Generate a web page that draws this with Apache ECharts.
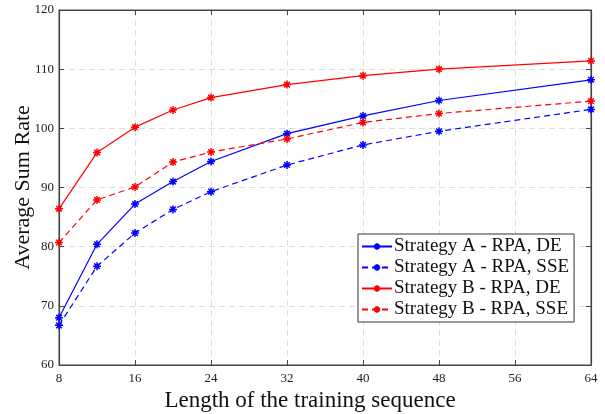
<!DOCTYPE html>
<html><head><meta charset="utf-8">
<script src="https://cdn.jsdelivr.net/npm/echarts@6/dist/echarts.min.js"></script>
<style>html,body{margin:0;padding:0;background:#fff}#c{width:605px;height:414px}</style>
</head><body><div id="c"></div>
<script>
var xValues = [8, 12, 16, 20, 24, 32, 40, 48, 64];
var seriesNames = ['Strategy A - RPA, DE', 'Strategy A - RPA, SSE', 'Strategy B - RPA, DE', 'Strategy B - RPA, SSE'];
var aDE  = [68.0, 80.4, 87.2, 91.0, 94.4, 99.1, 102.1, 104.7, 108.2];
var aSSE = [66.7, 76.7, 82.3, 86.3, 89.3, 93.8, 97.2, 99.5, 103.2];
var bDE  = [86.4, 95.9, 100.2, 103.1, 105.2, 107.4, 108.9, 110.0, 111.4];
var bSSE = [80.7, 87.9, 90.1, 94.3, 96.0, 98.2, 101.0, 102.5, 104.6];
var xTicks = [8, 16, 24, 32, 40, 48, 56, 64];
var yTicks = [60, 70, 80, 90, 100, 110, 120];

var star = 'path://M0,-10L0,10M-10,0L10,0M-7,-7L7,7M-7,7L7,-7';
var font = '"Liberation Serif","Times New Roman",serif';
function pairs(arr){ return xValues.map(function(x,i){ return [x, arr[i]]; }); }
function mk(name, data, color, dashed){
  return {
    name: name, type: 'line', data: pairs(data),
    symbol: star, symbolSize: 8,
    lineStyle: {color: color, width: 1.2, type: dashed ? [6,4] : 'solid'},
    itemStyle: {color: color, borderColor: color, borderWidth: 1.5},
    emphasis: {disabled: true}, animation: false, z: 3
  };
}
var axisLine = {show: true, lineStyle: {color: '#444', width: 1.2}};
var chart = echarts.init(document.getElementById('c'), null, {renderer: 'canvas'});
chart.setOption({
  animation: false,
  grid: {left: 59, right: 14, top: 10, bottom: 49, show: true, borderColor: '#444', borderWidth: 1,
         containLabel: false, outerBoundsMode: 'none'},
  legend: {
    orient: 'vertical', left: 358, top: 234,
    data: seriesNames,
    backgroundColor: '#fff', borderColor: '#333', borderWidth: 1,
    padding: [3, 5, 3, 3], itemGap: 2, itemWidth: 30, itemHeight: 8,
    textStyle: {fontFamily: font, fontSize: 19, color: '#111', padding: [0,0,0,-3]}
  },
  xAxis: [{
    type: 'value', min: 8, max: 64, interval: 8,
    name: 'Length of the training sequence', nameLocation: 'middle', nameGap: 22,
    nameTextStyle: {fontFamily: font, fontSize: 23, color: '#111', padding: [0, 30, 0, 0]},
    axisLine: axisLine,
    axisTick: {inside: true, length: 5, lineStyle: {color: '#444'}},
    axisLabel: {fontFamily: font, fontSize: 13, color: '#222', margin: 7,
      formatter: function(v){ return xTicks.indexOf(v) >= 0 ? String(v) : ''; }},
    splitLine: {show: true, lineStyle: {color: '#ddd', type: [6,4], width: 1}}
  }, {
    type: 'value', min: 8, max: 64, interval: 8, position: 'top',
    axisLine: axisLine, axisTick: {inside: true, length: 5, lineStyle: {color: '#444'}},
    axisLabel: {show: false}, splitLine: {show: false}
  }],
  yAxis: [{
    type: 'value', min: 60, max: 120, interval: 10,
    name: 'Average Sum Rate', nameLocation: 'middle', nameGap: 25, nameMoveOverlap: false,
    nameTextStyle: {fontFamily: font, fontSize: 22, color: '#111'},
    axisLine: axisLine,
    axisTick: {inside: true, length: 5, lineStyle: {color: '#444'}},
    axisLabel: {fontFamily: font, fontSize: 13, color: '#222', margin: 5,
      formatter: function(v){ return yTicks.indexOf(v) >= 0 ? String(v) : ''; }},
    splitLine: {show: true, lineStyle: {color: '#ddd', type: [6,4], width: 1}}
  }, {
    type: 'value', min: 60, max: 120, interval: 10, position: 'right',
    axisLine: axisLine, axisTick: {inside: true, length: 5, lineStyle: {color: '#444'}},
    axisLabel: {show: false}, splitLine: {show: false}
  }],
  series: [
    mk(seriesNames[0], aDE, '#0000ff', false),
    mk(seriesNames[1], aSSE, '#0000ff', true),
    mk(seriesNames[2], bDE, '#ff0000', false),
    mk(seriesNames[3], bSSE, '#ff0000', true)
  ]
});
</script></body></html>
